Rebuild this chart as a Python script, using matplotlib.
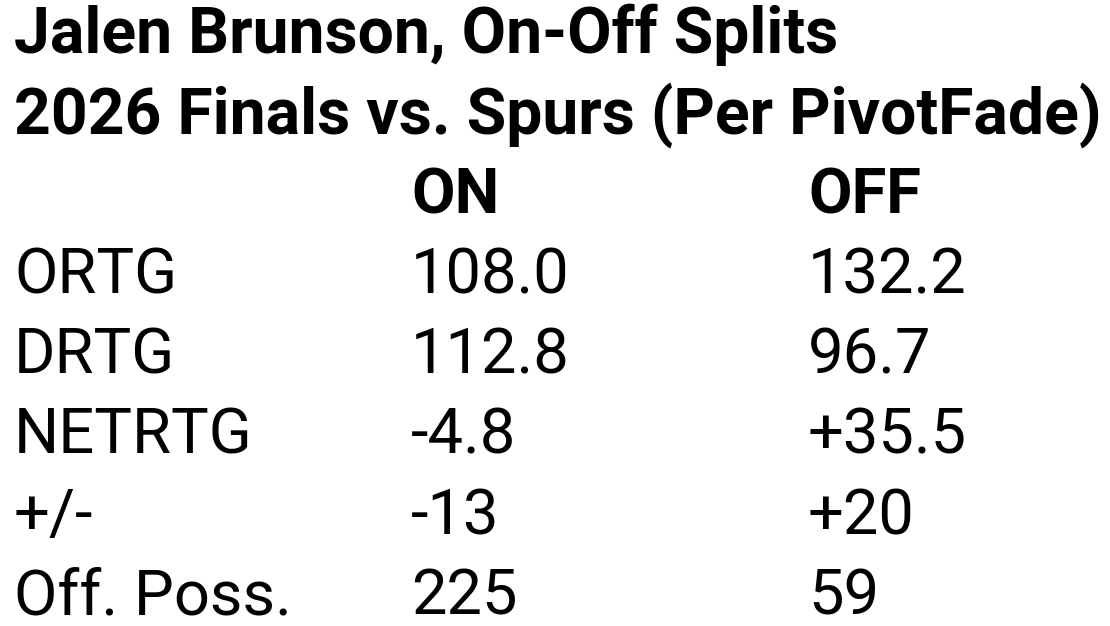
import matplotlib
matplotlib.use('Agg')
import matplotlib.pyplot as plt

title_lines = ['Jalen Brunson, On-Off Splits',
               '2026 Finals vs. Spurs (Per PivotFade)']
columns = ['ON', 'OFF']
stats = ['ORTG', 'DRTG', 'NETRTG', '+/-', 'Off. Poss.']
on_vals = ['108.0', '112.8', '-4.8', '-13', '225']
off_vals = ['132.2', '96.7', '+35.5', '+20', '59']

W, H = 1110, 626
fig = plt.figure(figsize=(W / 100, H / 100), dpi=100)
fig.patch.set_facecolor('white')

fs = 45.5
x_cols = [14, 411, 808]
line_gap = 80.2
y0 = 53

def put(x, y, s, bold=False, size=fs):
    fig.text(x / W, 1 - y / H, s, fontsize=size, family='Roboto',
             fontweight='bold' if bold else 'normal',
             ha='left', va='baseline', color='black')

for k, line in enumerate(title_lines):
    put(x_cols[0], y0 + k * line_gap, line, bold=True, size=46.3)

put(x_cols[1], y0 + 2 * line_gap, columns[0], bold=True)
put(x_cols[2], y0 + 2 * line_gap, columns[1], bold=True)

for i, name in enumerate(stats):
    y = y0 + (3 + i) * line_gap
    put(x_cols[0], y, name)
    put(x_cols[1], y, on_vals[i])
    put(x_cols[2], y, off_vals[i])

fig.savefig('out.png', dpi=100, facecolor='white')
